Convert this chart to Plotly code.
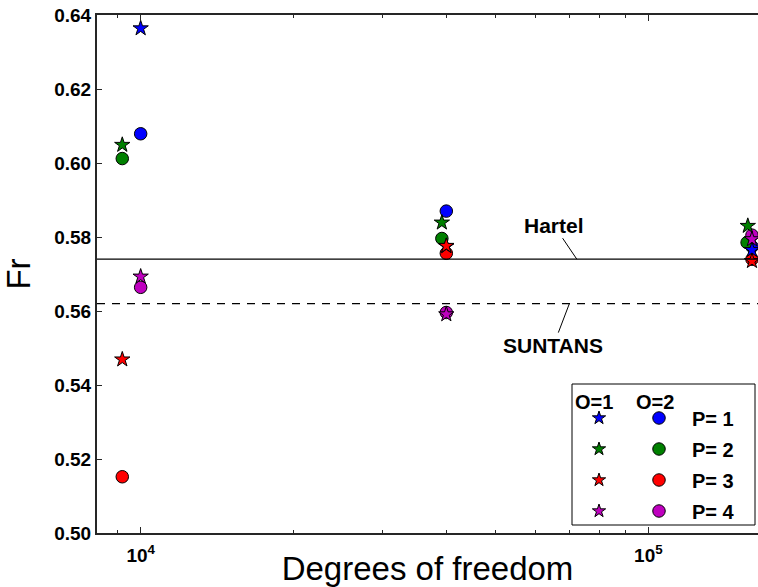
import math
import plotly.graph_objects as go

# ---------------- data ----------------
colors = ["#0000ff", "#008000", "#ff0000", "#bf00bf"]
p_labels = ["P= 1", "P= 2", "P= 3", "P= 4"]

# O=1 (stars)
star_x = [
    [10000, 40000, 160000],
    [9200, 39200, 157000],
    [9200, 40000, 160000],
    [10000, 40000, 160000],
]
star_y = [
    [0.6364, 0.5775, 0.5765],
    [0.6049, 0.5839, 0.5830],
    [0.5469, 0.5776, 0.5735],
    [0.5693, 0.5591, 0.5794],
]
# O=2 (circles)
circ_x = [
    [10000, 40000, 160000],
    [9200, 39200, 156500],
    [9200, 40000, 160000],
    [10000, 40000, 160000],
]
circ_y = [
    [0.6079, 0.5870, 0.5774],
    [0.6012, 0.5796, 0.5785],
    [0.5152, 0.5756, 0.5740],
    [0.5664, 0.5596, 0.5805],
]

hartel_fr = 0.574
suntans_fr = 0.562

y_ticks = [0.50, 0.52, 0.54, 0.56, 0.58, 0.60, 0.62, 0.64]
x_ticks = [1e4, 1e5]
x_ticktext = ["10<sup>4</sup>", "10<sup>5</sup>"]
x_minor = [9000] + [k * 1e4 for k in range(2, 10)] + [2e5]

# ---------------- figure ----------------
W, H = 758, 587
ML, MR, MT, MB = 97, 0, 15, 54

fig = go.Figure()

for i in range(4):
    fig.add_trace(go.Scatter(
        x=circ_x[i], y=circ_y[i], mode="markers",
        marker=dict(symbol="circle", size=12.5, color=colors[i],
                    line=dict(color="black", width=1)),
        showlegend=False, hoverinfo="skip"))
for i in range(4):
    fig.add_trace(go.Scatter(
        x=star_x[i], y=star_y[i], mode="markers",
        marker=dict(symbol="star", size=11.5, color=colors[i],
                    line=dict(color="black", width=1)),
        showlegend=False, hoverinfo="skip"))

# reference lines
fig.add_shape(type="line", xref="x domain", yref="y", x0=0, x1=1,
              y0=hartel_fr, y1=hartel_fr, line=dict(color="black", width=1.3))
fig.add_shape(type="line", xref="x domain", yref="y", x0=0, x1=1,
              y0=suntans_fr, y1=suntans_fr,
              line=dict(color="black", width=1.3, dash="8px,7px"))

ann_font = dict(family="Liberation Sans, Arial", size=21, color="black", weight="bold")
fig.add_annotation(x=math.log10(72300), y=hartel_fr, xref="x", yref="y",
                   text="Hartel", showarrow=True, arrowhead=0, arrowwidth=1,
                   arrowcolor="black", ax=-23, ay=-34, font=ann_font)
fig.add_annotation(x=math.log10(69900), y=suntans_fr, xref="x", yref="y",
                   text="SUNTANS", showarrow=True, arrowhead=0, arrowwidth=1,
                   arrowcolor="black", ax=-16, ay=42, font=ann_font)

# ---------------- custom legend (inset pixel axes) ----------------
leg_left, leg_right, leg_top, leg_bottom = 572, 755, 384, 525
star_col, circ_col, text_col = 599, 659, 690
row0, row_step = 418, 31

fig.add_shape(type="rect", xref="x2", yref="y2",
              x0=leg_left, x1=leg_right, y0=leg_top, y1=leg_bottom,
              line=dict(color="black", width=1), fillcolor="white", layer="below")

leg_font = dict(family="Liberation Sans, Arial", size=20, color="black", weight="bold")
fig.add_annotation(x=leg_left + 1, y=row0 - 16, xref="x2", yref="y2", text="O=1",
                   showarrow=False, xanchor="left", yanchor="middle", font=leg_font)
fig.add_annotation(x=leg_left + 62, y=row0 - 16, xref="x2", yref="y2", text="O=2",
                   showarrow=False, xanchor="left", yanchor="middle", font=leg_font)

rows = [row0 + i * row_step for i in range(4)]
fig.add_trace(go.Scatter(
    x=[star_col] * 4, y=rows, mode="markers", xaxis="x2", yaxis="y2",
    marker=dict(symbol="star", size=10, color=colors, line=dict(color="black", width=1)),
    showlegend=False, hoverinfo="skip"))
fig.add_trace(go.Scatter(
    x=[circ_col] * 4, y=rows, mode="markers", xaxis="x2", yaxis="y2",
    marker=dict(symbol="circle", size=12.5, color=colors, line=dict(color="black", width=1)),
    showlegend=False, hoverinfo="skip"))
for i in range(4):
    fig.add_annotation(x=text_col, y=rows[i] + 1, xref="x2", yref="y2", text=p_labels[i],
                       showarrow=False, xanchor="left", yanchor="middle", font=leg_font)

tick_font = dict(family="Liberation Sans, Arial", size=19, color="black", weight="bold")
title_font = dict(family="Liberation Sans, Arial", size=33, color="black")

fig.update_layout(
    width=W, height=H,
    margin=dict(l=ML, r=MR, t=MT, b=MB, pad=0),
    paper_bgcolor="white", plot_bgcolor="white",
    showlegend=False,
    xaxis=dict(
        type="log", range=[3.914, 5.216],
        tickmode="array", tickvals=x_ticks, ticktext=x_ticktext,
        ticks="inside", ticklen=6, tickwidth=1, tickcolor="#262626",
        showline=True, linecolor="#262626", linewidth=2, mirror="ticks",
        showgrid=False, zeroline=False, tickfont=tick_font, ticklabelstandoff=4,
        minor=dict(tickmode="array", tickvals=x_minor, ticks="inside",
                   ticklen=3, tickwidth=1, tickcolor="#262626", showgrid=False),
        title=dict(text="Degrees of freedom", font=title_font, standoff=2),
        automargin=False,
    ),
    yaxis=dict(
        range=[0.50, 0.64], tickmode="array", tickvals=y_ticks, tickformat=".2f",
        ticks="inside", ticklen=5, tickwidth=1, tickcolor="#262626",
        showline=True, linecolor="#262626", linewidth=2, mirror=False,
        showgrid=False, zeroline=False, tickfont=tick_font,
        title=dict(text="Fr", font=title_font, standoff=14),
        automargin=False,
    ),
    xaxis2=dict(domain=[0, 1], range=[ML, W - MR], overlaying="x", anchor="y2",
                visible=False, fixedrange=True),
    yaxis2=dict(domain=[0, 1], range=[H - MB, MT], overlaying="y", anchor="x2",
                visible=False, fixedrange=True),
)

fig.write_html(
    "out.html",
    config={"displayModeBar": False, "staticPlot": True},
    post_script="document.body.style.margin='0';document.body.style.overflow='hidden';",
)
